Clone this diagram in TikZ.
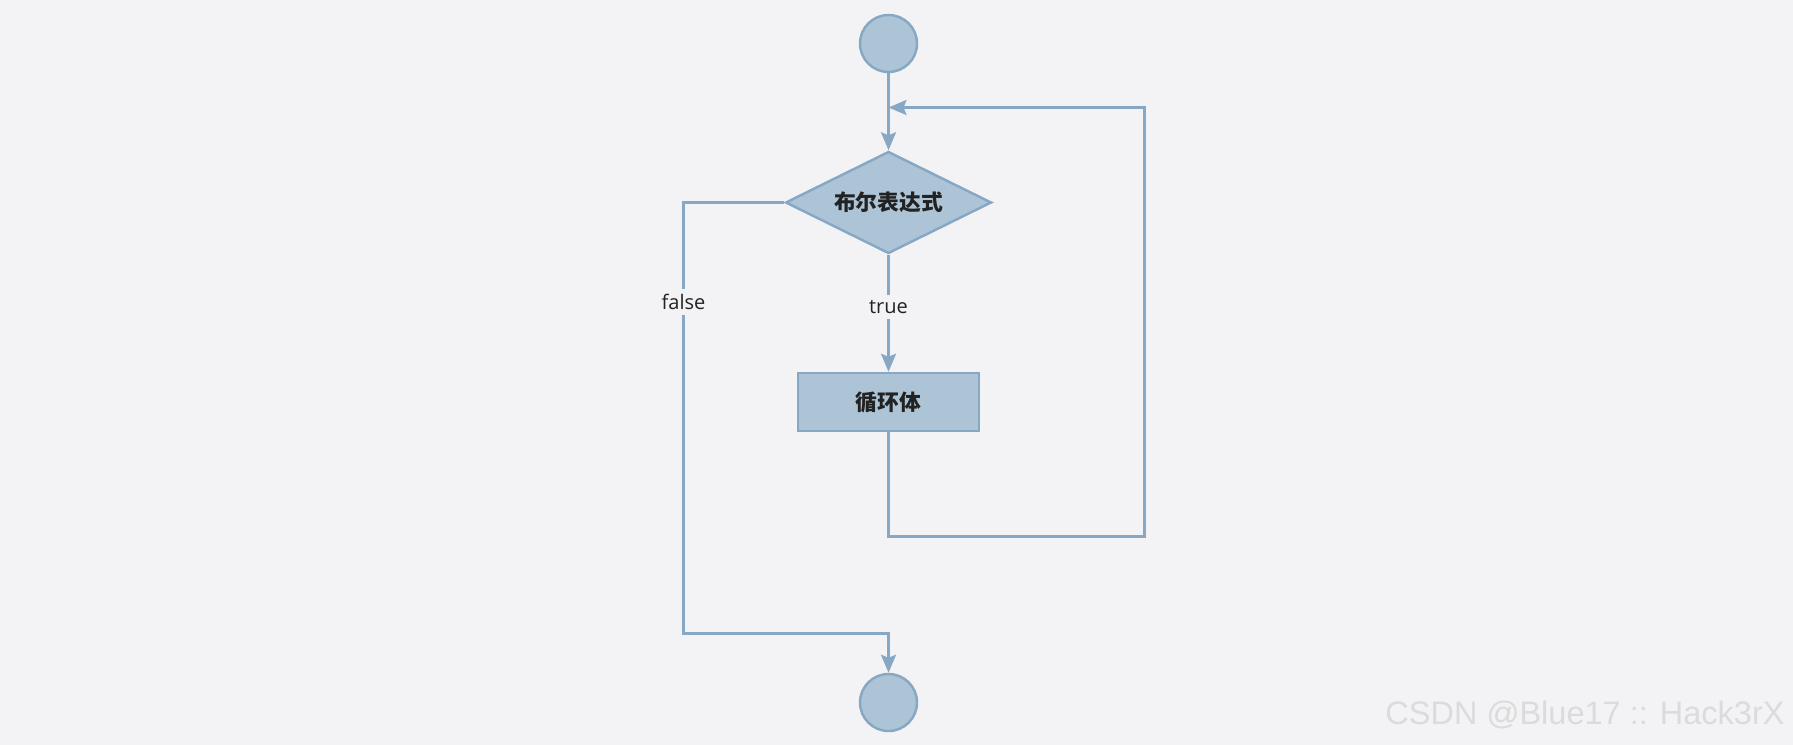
\documentclass[tikz,border=0pt]{standalone}
\usepackage{xcolor}
\usepackage{fontspec}
\usepackage{tikz}
\usetikzlibrary{arrows.meta, positioning, shapes.geometric}
\setmainfont{Open Sans}
\newfontfamily\cjk{Noto Sans CJK SC}
\newfontfamily\markfont{Liberation Sans}
\definecolor{bgcol}{RGB}{243,243,245}
\definecolor{nodefill}{RGB}{172,196,214}
\definecolor{nodeline}{RGB}{134,168,196}
\definecolor{textcol}{RGB}{34,34,34}

\begin{document}
\begin{tikzpicture}[>={Stealth[length=0.36cm, width=0.3cm, inset=0.06cm]},
    flow/.style={draw=nodeline, line width=1.4pt},
    term/.style={circle, fill=nodefill, draw=nodeline, line width=1.4pt, minimum size=1.14cm, inner sep=0pt},
    cond/.style={diamond, aspect=2, fill=nodefill, draw=nodeline, line width=1.4pt, minimum width=4.12cm, minimum height=2.04cm, inner sep=0pt, font=\cjk\bfseries\fontsize{12.4}{14}\selectfont, text=textcol},
    body/.style={rectangle, fill=nodefill, draw=nodeline, line width=1.4pt, minimum width=3.62cm, minimum height=1.16cm, inner sep=0pt, font=\cjk\bfseries\fontsize{12.4}{14}\selectfont, text=textcol},
    lbl/.style={fill=bgcol, inner sep=3pt, font=\fontsize{11.4}{13}\selectfont, text=textcol}]
    \path[use as bounding box, fill=bgcol] (0,0) rectangle (35.86,-14.9);

    % nodes of the loop
    \node[term] (start) at (17.77,-0.87) {};
    \node[cond] (test) at (17.77,-4.05) {布尔表达式};
    \node[body] (loopbody) at (17.77,-8.04) {循环体};
    \node[term] (stop) at (17.77,-14.05) {};

    % turning points
    \coordinate (backright) at (22.89,-10.73);
    \coordinate (backin) at (17.77,-2.15);
    \coordinate (falsecorner) at (13.67,-12.67);

    % connectors
    \draw[flow, ->] (start) -- (test);
    \draw[flow, ->] (test) -- node[lbl, pos=0.45] {true} (loopbody);
    \draw[flow, ->] (loopbody.south) |- (backright) |- (backin);
    \draw[flow, ->] (test.west) -| node[lbl, pos=0.615] {false} (falsecorner) -| (stop);

    % watermark
    \node[font=\markfont\fontsize{18.5}{20}\selectfont, text=black!14] (mark) at (31.7,-14.3) {CSDN @Blue17 :: Hack3rX};
  \end{tikzpicture}
\end{document}
